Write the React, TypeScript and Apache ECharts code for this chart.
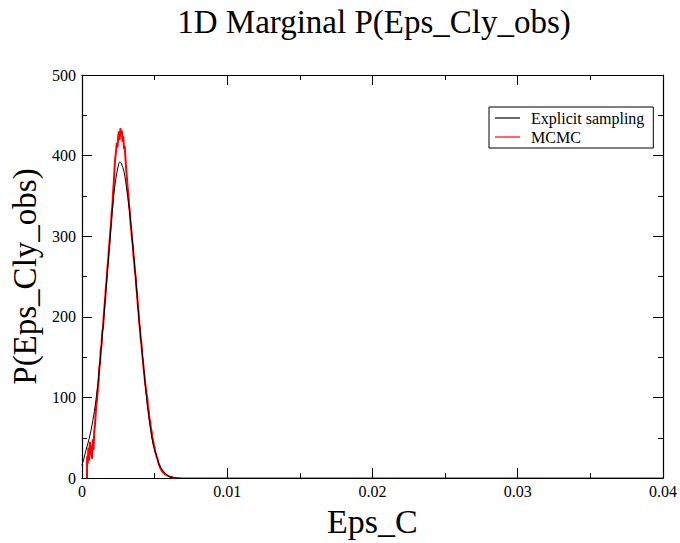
import React, { useEffect, useRef } from "react";
import * as echarts from "echarts";

const TITLE = "1D Marginal P(Eps_Cly_obs)";
const X_NAME = "Eps_C";
const Y_NAME = "P(Eps_Cly_obs)";
const SERIES_NAMES = ["Explicit sampling", "MCMC"];

// Explicit sampling (black)
const explicitX = [
  0, 0.00015, 0.0003, 0.0005, 0.0007, 0.0009, 0.0011, 0.0013, 0.0015, 0.0017, 0.0019, 0.0021,
  0.0023, 0.0025, 0.0026, 0.0027, 0.0029, 0.0031, 0.0033, 0.0035, 0.0037, 0.0039, 0.0041,
  0.0043, 0.0045, 0.0047, 0.0049, 0.0051, 0.0053, 0.0055, 0.0057, 0.006, 0.0065, 0.007, 0.04,
];
const explicitY = [
  16, 25, 36, 49, 66, 88, 117, 155, 197, 244, 288, 333, 367, 387, 392, 391, 380, 356, 328, 289,
  249, 204, 165, 127, 91, 64, 42, 30, 18, 11, 7, 2, 0.5, 0, 0,
];

// MCMC (red)
const mcmcX = [
  0.00035, 0.00036, 0.0004, 0.00045, 0.0005, 0.00055, 0.0006, 0.00065, 0.0007, 0.00075, 0.0008,
  0.00085, 0.0009, 0.00095, 0.001, 0.00105, 0.0011, 0.00115, 0.0012, 0.00125, 0.0013, 0.00135,
  0.0014, 0.00145, 0.0015, 0.00155, 0.0016, 0.00165, 0.0017, 0.00175, 0.0018, 0.00185, 0.0019,
  0.00195, 0.002, 0.00205, 0.0021, 0.00215, 0.0022, 0.00225, 0.0023, 0.00235, 0.0024, 0.00245,
  0.0025, 0.00255, 0.0026, 0.00265, 0.0027, 0.00275, 0.0028, 0.00285, 0.0029, 0.00295, 0.003,
  0.00305, 0.0031, 0.00315, 0.0032, 0.00325, 0.0033, 0.00335, 0.0034, 0.00345, 0.0035, 0.00355,
  0.0036, 0.00365, 0.0037, 0.00375, 0.0038, 0.00385, 0.0039, 0.00395, 0.004, 0.00405, 0.0041,
  0.00415, 0.0042, 0.00425, 0.0043, 0.00435, 0.0044, 0.00445, 0.0045, 0.00455, 0.0046, 0.00465,
  0.0047, 0.00475, 0.0048, 0.00485, 0.0049, 0.00495, 0.005, 0.00505, 0.0051, 0.00515, 0.0052,
  0.00525, 0.0053, 0.00535, 0.0054, 0.00545, 0.0055, 0.0056, 0.0057, 0.0058, 0.0059, 0.006,
  0.0062, 0.0064,
];
const mcmcY = [
  0, 27, 18, 38, 22, 45, 28, 40, 24, 48, 35, 58, 66, 80, 92, 98, 112, 120, 138, 142, 160, 165,
  182, 186, 200, 212, 222, 236, 245, 260, 268, 282, 292, 305, 314, 330, 338, 355, 368, 385, 398,
  405, 416, 410, 424, 430, 419, 434, 426, 431, 417, 424, 408, 412, 396, 382, 372, 360, 352, 338,
  330, 316, 308, 296, 290, 276, 268, 256, 250, 236, 228, 214, 206, 192, 185, 172, 166, 154, 146,
  136, 128, 118, 112, 104, 100, 88, 84, 74, 70, 62, 58, 50, 47, 41, 38, 32, 30, 26, 24, 20, 17,
  15, 12, 11, 9, 7, 5, 4, 3, 2, 1, 0,
];

const X_MIN = 0;
const X_MAX = 0.04;
const X_STEP = 0.01;
const Y_MIN = 0;
const Y_MAX = 500;
const Y_STEP = 100;

const FONT = "'Liberation Serif', 'DejaVu Serif', serif";

export default function App() {
  const ref = useRef<HTMLDivElement>(null);
  useEffect(() => {
    if (!ref.current) return;
    const chart = echarts.init(ref.current, null, { renderer: "svg" });
    const axisCommon = {
      type: "value" as const,
      splitLine: { show: false },
      axisLine: { show: true, onZero: false, lineStyle: { color: "#000", width: 1.2 } },
      axisTick: { show: true, inside: true, length: 10, lineStyle: { color: "#000", width: 1 } },
      minorTick: { show: true, splitNumber: 2, length: 5, lineStyle: { color: "#000", width: 1 } },
    };
    const labelStyle = { color: "#000", fontFamily: FONT, fontSize: 16 };
    chart.setOption({
      animation: false,
      backgroundColor: "#fff",
      title: {
        text: TITLE,
        left: 374,
        textAlign: "center",
        top: 5,
        padding: 0,
        textStyle: { color: "#000", fontFamily: FONT, fontSize: 33, fontWeight: "normal" },
      },
      legend: {
        data: SERIES_NAMES,
        orient: "vertical",
        left: 489,
        top: 107,
        padding: [3, 9, 3, 6],
        itemGap: 3,
        itemWidth: 25,
        itemHeight: 1.2,
        icon: "rect",
        borderColor: "#000",
        borderWidth: 1,
        borderRadius: 0,
        textStyle: { color: "#000", fontFamily: FONT, fontSize: 16, padding: [0, 0, 0, 6] },
      },
      grid: { left: 81, right: 15, top: 75, bottom: 59, containLabel: false },
      xAxis: [
        {
          ...axisCommon,
          min: X_MIN,
          max: X_MAX,
          interval: X_STEP,
          position: "bottom",
          name: X_NAME,
          nameLocation: "middle",
          nameGap: 17,
          nameTextStyle: { color: "#000", fontFamily: FONT, fontSize: 34, verticalAlign: "top" },
          axisLabel: { ...labelStyle, margin: 5 },
        },
        {
          ...axisCommon,
          min: X_MIN,
          max: X_MAX,
          interval: X_STEP,
          position: "top",
          axisLabel: { show: false },
        },
      ],
      yAxis: [
        {
          ...axisCommon,
          min: Y_MIN,
          max: Y_MAX,
          interval: Y_STEP,
          position: "left",
          name: Y_NAME,
          nameLocation: "middle",
          nameGap: 38,
          nameTextStyle: { color: "#000", fontFamily: FONT, fontSize: 33 },
          axisLabel: { ...labelStyle, margin: 6 },
        },
        {
          ...axisCommon,
          min: Y_MIN,
          max: Y_MAX,
          interval: Y_STEP,
          position: "right",
          axisLabel: { show: false },
        },
      ],
      series: [
        {
          name: SERIES_NAMES[0],
          type: "line",
          xAxisIndex: 0,
          yAxisIndex: 0,
          showSymbol: false,
          smooth: 0.3,
          color: "#000",
          lineStyle: { color: "#000", width: 1 },
          z: 3,
          data: explicitX.map((x, i) => [x, explicitY[i]]),
        },
        {
          name: SERIES_NAMES[1],
          type: "line",
          xAxisIndex: 0,
          yAxisIndex: 0,
          showSymbol: false,
          color: "#ff0000",
          lineStyle: { color: "#ff0000", width: 2 },
          z: 2,
          data: mcmcX.map((x, i) => [x, mcmcY[i]]),
        },
      ],
    });
    return () => chart.dispose();
  }, []);
  return <div ref={ref} style={{ width: 680, height: 543, position: "absolute", left: 0, top: 0 }} />;
}
